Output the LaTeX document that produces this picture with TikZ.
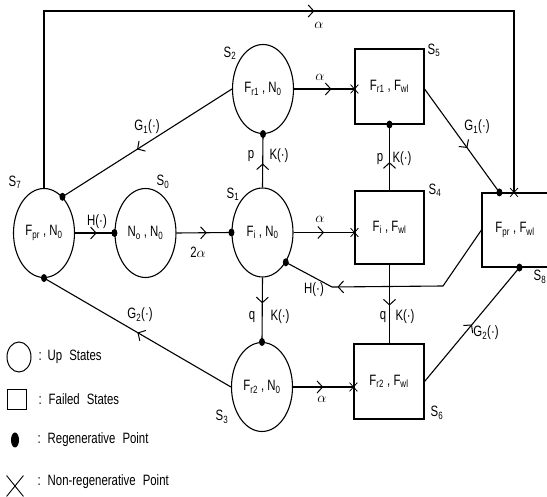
\documentclass[tikz,border=0pt]{standalone}
\usepackage{fontspec}
\setmainfont[FakeStretch=0.76]{Liberation Sans}
\usetikzlibrary{shapes.geometric,shapes.misc,arrows.meta,decorations.markings}
\begin{document}
\begin{tikzpicture}[x=1pt,y=-1pt, line width=1.1pt,
  every node/.style={font=\fontsize{15}{17}\selectfont},
  upst/.style={draw, ellipse, minimum width=61pt, minimum height=89pt, inner sep=0pt},
  failst/.style={draw, rectangle, minimum width=69pt, minimum height=75pt, inner sep=0pt},
  regpt/.style={fill, ellipse, inner sep=0pt, minimum width=6pt, minimum height=8pt},
  nonreg/.style={draw, cross out, inner sep=0pt, minimum width=7pt, minimum height=8pt, line width=0.8pt},
  midarr/.style={postaction={decorate, decoration={markings, mark=at position #1 with {\arrow{Straight Barb[length=5.5pt,width=12pt,line width=1pt]}}}}},
  lbl/.style={inner sep=0pt},
  sl/.style={inner sep=0pt}
]
\useasboundingbox (0,0) rectangle (547,497);

% states
\node[upst] (S7) at (44,233) {F\textsubscript{pr} , N\textsubscript{0}};
\node[upst] (S0) at (145.5,233) {N\textsubscript{o} , N\textsubscript{0}};
\node[upst] (S1) at (262.5,232.5) {F\textsubscript{i} , N\textsubscript{0}};
\node[upst] (S2) at (263,89) {F\textsubscript{r1} , N\textsubscript{0}};
\node[upst] (S3) at (262,387) {F\textsubscript{r2} , N\textsubscript{0}};
\node[failst] (S5) at (389.5,86.5) {F\textsubscript{r1} , F\textsubscript{wl}};
\node[failst, minimum height=73pt] (S4) at (389.5,227.5) {F\textsubscript{i} , F\textsubscript{wl}};
\node[failst, minimum width=70pt] (S6) at (389,381.5) {F\textsubscript{r2} , F\textsubscript{wl}};
\node[failst, minimum width=100pt, minimum height=74pt] (S8) at (532,230) {\hspace*{-34pt}F\textsubscript{pr} , F\textsubscript{wl}};

% state labels
\node[sl] (lS7) at (15,182) {S\textsubscript{7}};
\node[sl] (lS0) at (163,182) {S\textsubscript{0}};
\node[sl] (lS1) at (233,194) {S\textsubscript{1}};
\node[sl] (lS2) at (230,53) {S\textsubscript{2}};
\node[sl] (lS3) at (222,417) {S\textsubscript{3}};
\node[sl] (lS4) at (435,190) {S\textsubscript{4}};
\node[sl] (lS5) at (434,50) {S\textsubscript{5}};
\node[sl] (lS6) at (437,413) {S\textsubscript{6}};
\node[sl] (lS8) at (540,277) {S\textsubscript{8}};

% helper coordinates
\coordinate (tr) at (514,11);
\coordinate (hc1) at (443,286);
\coordinate (hc2) at (332,287);

% transitions
\draw[midarr=0.55] (S7.east) -- (S0.west) node[regpt] (d1) {};
\draw[midarr=0.55] (S0.east) -- (S1.west) node[regpt] (d2) {};
\draw[midarr=0.56] (S2.west) -- (S7.63) node[regpt] (d3) {};
\draw[midarr=0.5] (S3.west) -- (S7.south) node[regpt] (d4) {};
\draw[midarr=0.45] (S1.north) -- (S2.south) node[regpt] (d5) {};
\draw[midarr=0.4] (S1.south) -- (S3.north) node[regpt] (d6) {};
\draw[midarr=0.62] (S2.east) -- (S2.east -| S5.west) node[nonreg] (x1) {};
\draw[midarr=0.5] (S1.east) -- (S1.east -| S4.west) node[nonreg] (x2) {};
\draw[midarr=0.5] (S3.east) -- (S3.east -| S6.west) node[nonreg] (x3) {};
\draw[midarr=0.43] (S4.north) -- (S4.north |- S5.south) node[regpt] (d7) {};
\draw[midarr=0.52] (S4.south) -- (S4.south |- S6.north);
\draw[midarr=0.57] (S5.east |- S2.east) -- ([xshift=18pt]S8.north west) node[regpt] (d8) {};
\draw[midarr=0.5] (S6.east) -- ([xshift=38pt]S8.south west) node[regpt] (d9) {};
\draw[midarr=0.54] (S7.north) -- (S7.north |- tr) -- (tr) -- (tr |- S8.north) node[nonreg] (x4) {};
\draw[midarr=0.75] (S8.west) -- (hc1) -- (hc2) -- (S1.-52) node[regpt] (d10) {};

% transition labels
\node[lbl] (la1) at (319,25) {$\alpha$};
\node[lbl] (la2) at (320,77) {$\alpha$};
\node[lbl] (la3) at (320,219) {$\alpha$};
\node[lbl] (la4) at (322,399) {$\alpha$};
\node[lbl] (l2a) at (198,252) {2$\alpha$};
\node[lbl] (lH1) at (97,222) {H(·)};
\node[lbl] (lH2) at (314,290) {H(·)};
\node[lbl] (lG1a) at (147,127) {G\textsubscript{1}(·)};
\node[lbl] (lG1b) at (477,127) {G\textsubscript{1}(·)};
\node[lbl] (lG2a) at (140,315) {G\textsubscript{2}(·)};
\node[lbl] (lG2b) at (486,333) {G\textsubscript{2}(·)};
\node[lbl] (lp1) at (251,156) {p};
\node[lbl] (lK1) at (279,156) {K(·)};
\node[lbl] (lq1) at (252,317) {q};
\node[lbl] (lK2) at (280,317) {K(·)};
\node[lbl] (lp2) at (380,159) {p};
\node[lbl] (lK3) at (402,159) {K(·)};
\node[lbl] (lq2) at (383,317) {q};
\node[lbl] (lK4) at (405,317) {K(·)};

% legend
\node[draw, ellipse, minimum width=24pt, minimum height=30pt, inner sep=0pt, line width=1pt] (LU) at (19,357) {};
\node[lbl, anchor=west] (LUt) at (38,357) {:\hspace{6pt}Up\hspace{7pt}States};
\node[draw, rectangle, minimum width=19pt, minimum height=20pt, inner sep=0pt, line width=1pt] (LF) at (16.5,400) {};
\node[lbl, anchor=west] (LFt) at (38,399) {:\hspace{7pt}Failed\hspace{7pt}States};
\node[regpt, minimum width=8pt, minimum height=15pt] (LR) at (15,440) {};
\node[lbl, anchor=west] (LRt) at (37,440) {:\hspace{7pt}Regenerative\hspace{7pt}Point};
\node[nonreg, minimum width=16pt, minimum height=20pt, line width=0.9pt] (LN) at (15,486) {};
\node[lbl, anchor=west] (LNt) at (37,482) {:\hspace{7pt}Non-regenerative\hspace{7pt}Point};
\end{tikzpicture}
\end{document}
